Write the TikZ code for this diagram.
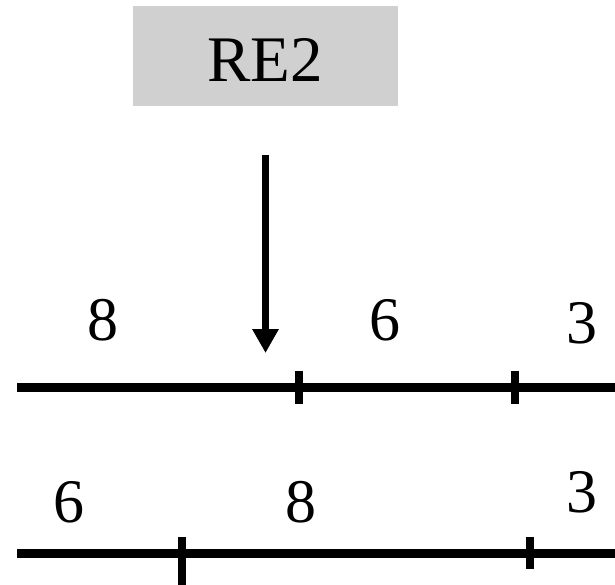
\documentclass[tikz,border=0pt]{standalone}
\usepackage{fontspec}
\setmainfont{Liberation Serif}
\usetikzlibrary{arrows.meta}
\definecolor{boxgray}{RGB}{208,208,208}
\begin{document}
\begin{tikzpicture}[x=1pt,y=-1pt,
  lbl/.style={anchor=base,inner sep=0pt,font=\fontsize{62}{74}\selectfont},
  axis/.style={line width=9pt},
  tickmark/.style={line width=8pt},
  bigarrow/.style={line width=7pt,-{Triangle[width=25pt,length=24pt]}}]
\useasboundingbox (0,0) rectangle (615,584);
% label box
\node[fill=boxgray,minimum width=265pt,minimum height=100pt,inner sep=0pt] (box) at (265.5,56) {};
\node[lbl,font=\fontsize{65}{78}\selectfont] (re) at (265,81) {RE2};
% arrow
\coordinate (as) at (265.5,155);
\coordinate (ae) at (265.5,353);
\draw[bigarrow] (as) -- (ae);
% top row
\coordinate (t0) at (17,387.5);
\coordinate (t1) at (615,387.5);
\draw[axis] (t0) -- (t1);
\coordinate (ta1) at (299,371); \coordinate (tb1) at (299,404);
\coordinate (ta2) at (515,371); \coordinate (tb2) at (515,404);
\draw[tickmark] (ta1) -- (tb1);
\draw[tickmark] (ta2) -- (tb2);
\node[lbl] (n8a) at (103,340) {8};
\node[lbl] (n6a) at (385,340) {6};
\node[lbl] (n3a) at (582,343) {3};
% bottom row
\coordinate (b0) at (17,553);
\coordinate (b1) at (615,553);
\draw[axis] (b0) -- (b1);
\coordinate (ba1) at (182,537); \coordinate (bb1) at (182,590);
\coordinate (ba2) at (530,537); \coordinate (bb2) at (530,569);
\draw[tickmark] (ba1) -- (bb1);
\draw[tickmark] (ba2) -- (bb2);
\node[lbl] (n6b) at (69,522) {6};
\node[lbl] (n8b) at (301,522) {8};
\node[lbl] (n3b) at (582,512) {3};
\end{tikzpicture}
\end{document}
